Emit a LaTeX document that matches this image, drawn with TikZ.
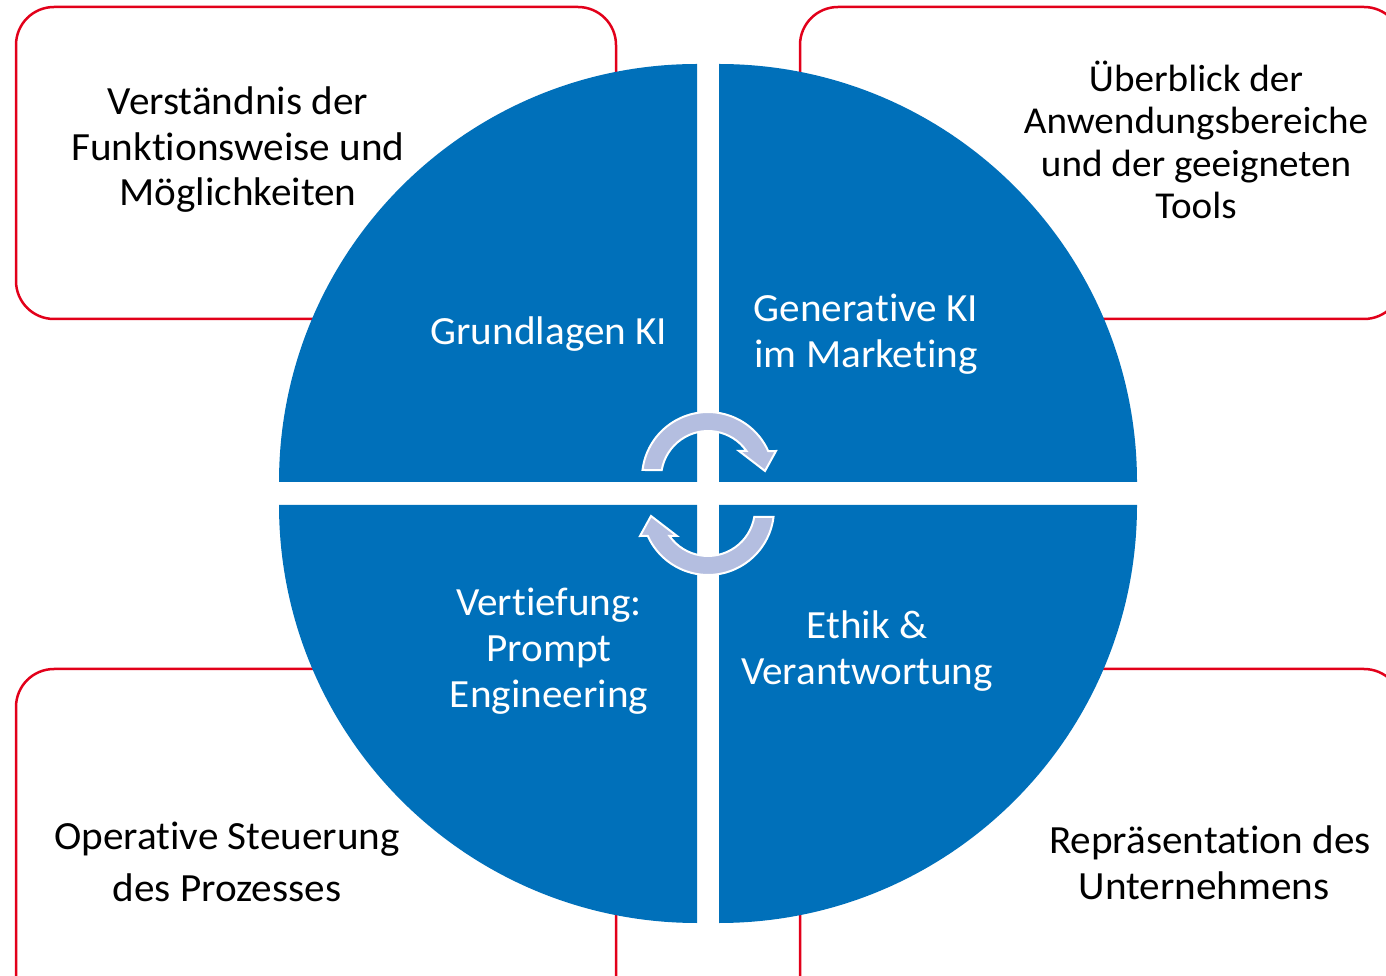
\documentclass[tikz,border=0pt]{standalone}
\usepackage{fontspec}
\setmainfont{Carlito}[FakeStretch=1.03,Ligatures=NoCommon]
\definecolor{kblue}{RGB}{0,112,186}
\definecolor{kred}{RGB}{226,0,26}
\definecolor{karrow}{RGB}{180,190,224}
\tikzset{
  x=1pt,y=1pt,
  outerbox/.style={draw=kred,line width=2.5pt,rounded corners=38pt,fill=white},
  quad/.style={fill=kblue},
  cyclearrow/.style={fill=karrow,draw=white,line width=2pt,line join=miter},
  boxtext/.style={inner sep=0pt,align=center,text=black,font=\fontsize{40}{45.5}\selectfont},
  quadtext/.style={inner sep=0pt,align=center,text=white,font=\fontsize{40}{46}\selectfont},
}
\begin{document}
\begin{tikzpicture}
\useasboundingbox (0,0) rectangle (1386,975);
\clip (0,0) rectangle (1386,975);
% outer boxes
\draw[outerbox] (16,968) rectangle (616,656);
\draw[outerbox] (800,968) rectangle (1402,656);
\draw[outerbox] (16,306) rectangle (616,-45);
\draw[outerbox] (800,306) rectangle (1402,-45);
% quadrants
\fill[quad] (697,493) -- ++(-418,0) arc[start angle=180,end angle=90,radius=418] -- cycle;
\fill[quad] (719,493) -- ++(0,418) arc[start angle=90,end angle=0,radius=418] -- cycle;
\fill[quad] (697,470) -- ++(-418,0) arc[start angle=180,end angle=270,radius=418] -- cycle;
\fill[quad] (719,470) -- ++(418,0) arc[start angle=0,end angle=-90,radius=418] -- cycle;
% cycle arrows
\draw[cyclearrow] (642.5,505) arc[start angle=173,end angle=24.1,radius=66]
  -- (776,524) -- (765,504) -- (739,524) -- (746.5,524)
  arc[start angle=35.1,end angle=170.2,radius=47] -- cycle;
\begin{scope}[rotate around={180:(708,481.5)}]
\draw[cyclearrow] (642.5,505) arc[start angle=173,end angle=24.1,radius=66]
  -- (776,524) -- (765,504) -- (739,524) -- (746.5,524)
  arc[start angle=35.1,end angle=170.2,radius=47] -- cycle;
\end{scope}
% texts
\node[boxtext] (tl) at (238,825) {Verständnis der\\Funktionsweise und\\Möglichkeiten};
\node[boxtext,font=\fontsize{38}{42.5}\selectfont] (tr) at (1196,835) {Überblick der\\Anwendungsbereiche\\und der geeigneten\\Tools};
\node[boxtext,font=\fontsize{40}{52}\selectfont] (bl) at (227,113) {Operative Steuerung\\des Prozesses};
\node[boxtext] (br) at (1210,112) {Repräsentation des\\Unternehmens\hspace*{12pt}};
\node[quadtext] (q1) at (549,641) {Grundlagen KI};
\node[quadtext] (q2) at (866,641) {Generative KI\\im Marketing};
\node[quadtext] (q3) at (549,324) {Vertiefung:\\Prompt\\Engineering};
\node[quadtext] (q4) at (867,324) {Ethik \&\\Verantwortung};
\end{tikzpicture}
\end{document}
